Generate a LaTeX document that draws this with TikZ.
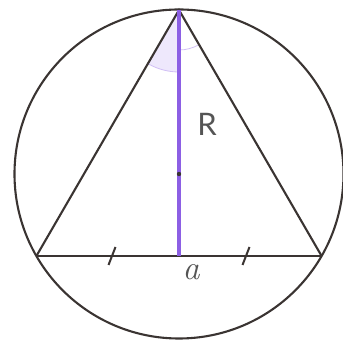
\documentclass[tikz,border=0pt]{standalone}
\usepackage{fontspec}
\usetikzlibrary{calc}
\newfontfamily\labelsans{Lato}
\definecolor{linegray}{RGB}{58,52,50}
\definecolor{purp}{RGB}{140,95,228}
\definecolor{purpfill}{RGB}{238,232,252}
\definecolor{textgray}{RGB}{85,85,85}
\tikzset{
  edge/.style={draw=linegray, line width=2.1pt},
  radline/.style={draw=purp, line width=3.2pt},
  tickmark/.style={draw=linegray, line width=2pt},
}
\begin{document}
\begin{tikzpicture}[x=1pt,y=1pt]
\useasboundingbox (0,0) rectangle (343,342);
\coordinate (O) at (179,168);
\coordinate (A) at (179,332);
\coordinate (B) at (36.4,86);
\coordinate (C) at (321.6,86);
\coordinate (M) at (179,86);
% angle marks
\fill[purpfill] (A) -- ++(240:62) arc[start angle=240,end angle=270,radius=62] -- cycle;
\draw[purpfill!70!purp, line width=0.8pt] ($(A)+(240:62)$) arc[start angle=240,end angle=270,radius=62];
\draw[purpfill!70!purp, line width=0.8pt] ($(A)+(270:40)$) arc[start angle=270,end angle=300,radius=40];
% circle
\draw[edge] (O) circle[radius=164.5];
% triangle
\draw[edge] (B) -- (A) -- (C);
\draw[edge] (B) -- (C);
% radius / altitude
\draw[radline] (A) -- (M);
\fill[linegray] (O) circle[radius=2.2];
% ticks
\coordinate (T1) at (112,86);
\coordinate (T2) at (246,86);
\draw[tickmark] ($(T1)+(-3.5,-9)$) -- ($(T1)+(3.5,9)$);
\draw[tickmark] ($(T2)+(-3.5,-9)$) -- ($(T2)+(3.5,9)$);
% labels
\node[text=textgray, font=\labelsans\fontsize{31}{31}\selectfont] (R) at (207,218) {R};
\node[text=textgray, font=\fontsize{34}{34}\selectfont\itshape] (a) at (191,70) {a};
\end{tikzpicture}
\end{document}
